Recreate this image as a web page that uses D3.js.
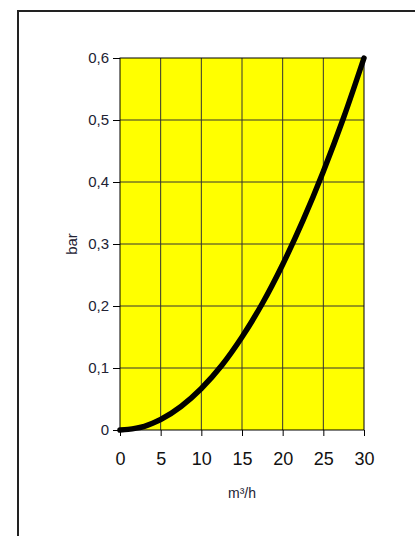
<!DOCTYPE html>
<html>
<head>
<meta charset="utf-8">
<script src="https://cdn.jsdelivr.net/npm/d3@7"></script>
<style>
  html, body { margin: 0; padding: 0; background: #fff; }
  svg { display: block; font-family: Arial, "Liberation Sans", sans-serif; }
</style>
</head>
<body>
<svg id="chart" width="415" height="536"></svg>
<script>
// flow (m3/h) and pressure drop (bar)
var flow = [0, 1, 2, 3, 4, 5, 7.5, 10, 12.5, 15, 17.5, 20, 22.5, 25, 27.5, 30];
var drop = [0, 0.001, 0.003, 0.006, 0.011, 0.017, 0.038, 0.067, 0.104, 0.150, 0.204, 0.267, 0.338, 0.417, 0.504, 0.600];
var xTicks = [0, 5, 10, 15, 20, 25, 30];
var yTicks = [0, 0.1, 0.2, 0.3, 0.4, 0.5, 0.6];

var svg = d3.select('#chart');

// outer frame
svg.append('rect')
    .attr('x', 18).attr('y', 11)
    .attr('width', 420).attr('height', 540)
    .attr('fill', 'none')
    .attr('stroke', '#222')
    .attr('stroke-width', 2);

var plotL = 120, plotR = 364, plotT = 58, plotB = 430;

var x = d3.scaleLinear().domain([0, 30]).range([plotL, plotR]);
var y = d3.scaleLinear().domain([0, 0.6]).range([plotB, plotT]);

svg.append('rect')
    .attr('x', plotL).attr('y', plotT)
    .attr('width', plotR - plotL).attr('height', plotB - plotT)
    .attr('fill', '#ffff00');

// grid
svg.append('g').selectAll('line')
    .data(xTicks.slice(1, -1))
    .enter().append('line')
        .attr('x1', function (d) { return x(d); })
        .attr('x2', function (d) { return x(d); })
        .attr('y1', plotT).attr('y2', plotB)
        .attr('stroke', '#333').attr('stroke-width', 1);
svg.append('g').selectAll('line')
    .data(yTicks.slice(1, -1))
    .enter().append('line')
        .attr('x1', plotL).attr('x2', plotR)
        .attr('y1', function (d) { return y(d); })
        .attr('y2', function (d) { return y(d); })
        .attr('stroke', '#333').attr('stroke-width', 1);

svg.append('rect')
    .attr('x', plotL).attr('y', plotT)
    .attr('width', plotR - plotL).attr('height', plotB - plotT)
    .attr('fill', 'none')
    .attr('stroke', '#000').attr('stroke-width', 1);

// axes
var xAxis = svg.append('g')
    .attr('transform', 'translate(0,' + plotB + ')')
    .call(d3.axisBottom(x).tickValues(xTicks).tickSize(6).tickPadding(16));
xAxis.select('.domain').remove();
xAxis.selectAll('text').attr('font-size', 18).attr('fill', '#111').attr('font-family', 'Arial, "Liberation Sans", sans-serif');

var yAxis = svg.append('g')
    .attr('transform', 'translate(' + plotL + ',0)')
    .call(d3.axisLeft(y).tickValues(yTicks).tickSize(7).tickPadding(4)
        .tickFormat(function (d) { return d === 0 ? '0' : d3.format('.1f')(d).replace('.', ','); }));
yAxis.select('.domain').remove();
yAxis.selectAll('text').attr('font-size', 15).attr('fill', '#223').attr('font-family', 'Arial, "Liberation Sans", sans-serif');

// curve
var pts = flow.map(function (f, i) { return [f, drop[i]]; });
svg.append('path')
    .datum(pts)
    .attr('fill', 'none')
    .attr('stroke', '#000')
    .attr('stroke-width', 5.5)
    .attr('stroke-linecap', 'round')
    .attr('d', d3.line()
        .x(function (d) { return x(d[0]); })
        .y(function (d) { return y(d[1]); })
        .curve(d3.curveMonotoneX));

// axis titles
svg.append('text')
    .attr('x', 242).attr('y', 498)
    .attr('text-anchor', 'middle')
    .attr('font-size', 14).attr('fill', '#223')
    .text('m³/h');

svg.append('text')
    .attr('transform', 'translate(77,244) rotate(-90)')
    .attr('text-anchor', 'middle')
    .attr('font-size', 15).attr('fill', '#223')
    .text('bar');
</script>
</body>
</html>
